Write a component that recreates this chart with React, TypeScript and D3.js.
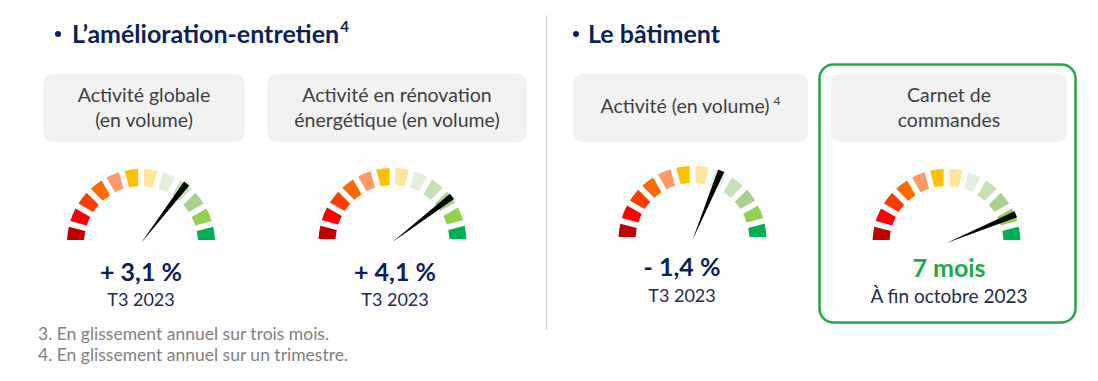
import React from "react";
import * as d3 from "d3";

// ---- data ----
const sectionTitles = ["L’amélioration-entretien", "Le bâtiment"];
const sectionNotes = ["4", ""];
const panelLabels: string[][] = [
  ["Activité globale", "(en volume)"],
  ["Activité en rénovation", "énergétique (en volume)"],
  ["Activité (en volume)"],
  ["Carnet de", "commandes"],
];
const panelNotes = ["", "", "4", ""];
const valueLabels = ["+ 3,1 %", "+ 4,1 %", "- 1,4 %", "7 mois"];
const periodLabels = ["T3 2023", "T3 2023", "T3 2023", "À fin octobre 2023"];
// gauge segment (0 = far left/red ... 11 = far right/green) the needle points at
const needleSegments = [8, 9, 7, 10];
const segmentColors = [
  "#C00000", "#FF0000", "#FF3C00", "#FF6A00", "#FF9966", "#FFC000",
  "#FFE699", "#E2EFDA", "#C6E0B4", "#A9D08E", "#92D050", "#00B050",
];
const footnotes = [
  "3. En glissement annuel sur trois mois.",
  "4. En glissement annuel sur un trimestre.",
];

// ---- layout ----
const W = 1098, H = 381;
const FONT = "Lato, 'Open Sans', sans-serif";
const NAVY = "#0C1F5B";
const panels = [
  { bx: 43, bw: 202, gx: 141, gy: 243, tx: 141, vy: 281, py: 306 },
  { bx: 267, bw: 260, gx: 392.5, gy: 242, tx: 395, vy: 281, py: 306 },
  { bx: 573, bw: 235, gx: 692.5, gy: 240, tx: 682, vy: 276, py: 302 },
  { bx: 831, bw: 236, gx: 946.5, gy: 243, tx: 949, vy: 277, py: 303 },
];
const BOX_Y = 74, BOX_H = 68;
const R_OUT = 74, R_IN = 57;

const angleScale = d3.scaleLinear().domain([0, segmentColors.length]).range([-Math.PI / 2, Math.PI / 2]);
const arcGen = d3
  .arc<{ s: number }>()
  .innerRadius(R_IN)
  .outerRadius(R_OUT)
  .startAngle((d) => angleScale(d.s))
  .endAngle((d) => angleScale(d.s + 1))
  .padAngle(0.062);

function Gauge({ cx, cy, seg }: { cx: number; cy: number; seg: number }) {
  const a = angleScale(seg + 0.5); // 0 = up, clockwise
  const L = 75, hw = 3.3;
  const ux = Math.sin(a), uy = -Math.cos(a);
  const px = -uy, py = ux;
  const pts = [
    [0, 0],
    [ux * L + px * hw, uy * L + py * hw],
    [ux * L - px * hw, uy * L - py * hw],
  ];
  return (
    <g transform={`translate(${cx},${cy})`}>
      {segmentColors.map((c, i) => (
        <path key={i} d={arcGen({ s: i }) || ""} fill={c} />
      ))}
      <polygon points={pts.map((p) => p.join(",")).join(" ")} fill="#000" />
    </g>
  );
}

export default function App() {
  return (
    <svg width={W} height={H} style={{ position: "absolute", left: 0, top: 0, background: "#fff" }} fontFamily={FONT}>
      <rect width={W} height={H} fill="#fff" />
      {/* section titles */}
      <circle cx={58} cy={34} r={3} fill={NAVY} />
      <text x={72} y={43} fontSize={25} fontWeight={700} fill={NAVY}>
        {sectionTitles[0]}
        <tspan fontSize={15} dy={-11} dx={1}>{sectionNotes[0]}</tspan>
      </text>
      <circle cx={576} cy={34} r={3} fill={NAVY} />
      <text x={588} y={43} fontSize={25} fontWeight={700} fill={NAVY}>
        {sectionTitles[1]}
      </text>
      {/* divider */}
      <line x1={546.5} x2={546.5} y1={15} y2={330} stroke="#D4D4D4" strokeWidth={1} />
      {/* highlighted card */}
      <rect x={819.5} y={64.5} width={256} height={258} rx={14} fill="none" stroke="#22A84A" strokeWidth={2.5} />
      {panels.map((p, i) => {
        const lines = panelLabels[i];
        const cx = p.bx + p.bw / 2;
        const base = lines.length === 1 ? 113 : 102;
        return (
          <g key={i}>
            <rect x={p.bx} y={BOX_Y} width={p.bw} height={BOX_H} rx={9} fill="#F2F2F2" />
            {lines.map((l, j) => (
              <text key={j} x={cx} y={base + j * 25} textAnchor="middle" fontSize={19.5} fill="#404040">
                {l}
                {j === lines.length - 1 && panelNotes[i] ? (
                  <tspan fontSize={12} dy={-8} dx={4}>{panelNotes[i]}</tspan>
                ) : null}
              </text>
            ))}
            <Gauge cx={p.gx} cy={p.gy} seg={needleSegments[i]} />
            <text x={p.tx} y={p.vy} textAnchor="middle" fontSize={25} fontWeight={700} fill={i === 3 ? "#22A84A" : NAVY}>
              {valueLabels[i]}
            </text>
            <text x={p.tx} y={p.py} textAnchor="middle" fontSize={i === 3 ? 19 : 18} fill="#1E2A4E">
              {periodLabels[i]}
            </text>
          </g>
        );
      })}
      {footnotes.map((f, i) => (
        <text key={i} x={38} y={340 + i * 21} fontSize={17.5} fill="#808080">
          {f}
        </text>
      ))}
    </svg>
  );
}
